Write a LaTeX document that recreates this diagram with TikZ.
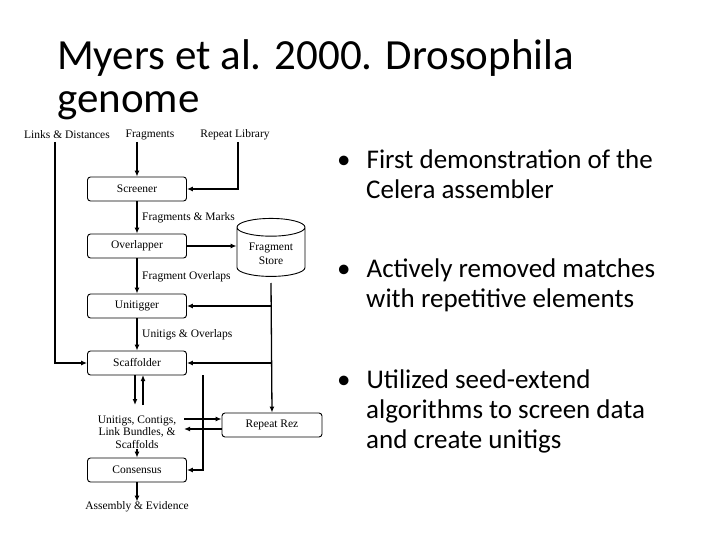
\documentclass[tikz,border=0pt]{standalone}
\usepackage{fontspec}
\setmainfont{Carlito}
\newfontfamily\tms{Liberation Serif}
\usetikzlibrary{shapes.geometric,arrows.meta}
\begin{document}
\begin{tikzpicture}[x=1pt,y=-1pt,
  box/.style={draw,rounded corners=3pt,minimum width=99pt,minimum height=24pt,font=\tms\fontsize{11.5}{12}\selectfont,inner sep=0pt,line width=0.9pt},
  lab/.style={font=\tms\fontsize{11.5}{12}\selectfont,inner sep=0pt},
  ar/.style={-{Latex[length=6pt,width=5pt]},line width=1.3pt},
  bul/.style={font=\fontsize{27}{30}\selectfont,align=left,anchor=north west,inner sep=0pt}]
\useasboundingbox (0,0) rectangle (720,540);
\node[anchor=west,font=\fontsize{43}{43}\selectfont,align=left,inner sep=0pt] (title) at (57,80) {Myers et al. 2000. Drosophila\\genome};
\node[lab] (ld) at (67,135) {Links \& Distances};
\node[lab] (fr) at (150,135) {Fragments};
\node[lab] (rl) at (235,135) {Repeat Library};
\node[box] (scr) at (137,189) {Screener};
\node[box] (ovl) at (137,246) {Overlapper};
\node[box] (uni) at (137,306) {Unitigger};
\node[box] (sca) at (137,363) {Scaffolder};
\node[box] (con) at (137,470) {Consensus};
\node[box,minimum width=100pt] (rr) at (272,425) {Repeat Rez};
\node[draw,cylinder,shape border rotate=90,aspect=0.35,minimum width=68pt,minimum height=58pt,line width=0.9pt,align=center,font=\tms\fontsize{11.5}{14}\selectfont] (fs) at (271,254) {Fragment\\Store};
\node[lab,align=center,font=\tms\fontsize{11.5}{12.5}\selectfont] (uc) at (137,432) {Unitigs, Contigs,\\Link Bundles, \&\\Scaffolds};
\node[lab] (ae) at (137,507) {Assembly \& Evidence};
\node[lab,anchor=west] at (142,218) {Fragments \& Marks};
\node[lab,anchor=west] at (142,277) {Fragment Overlaps};
\node[lab,anchor=west] at (142,335) {Unitigs \& Overlaps};
\coordinate (fsb) at (271,283);
\coordinate (frb) at (137,142);
\draw[ar] (frb) -- (scr);
\draw[ar] (238,142) |- (scr.east);
\draw[ar] (55,142) |- (sca.west);
\draw[ar] (scr) -- (ovl);
\draw[ar] (ovl) -- (uni);
\draw[ar] (uni) -- (sca);
\draw[ar] (ovl.east) -- (fs.west|-ovl.east);
\draw[ar] (fsb) -- (rr.north);
\draw[ar] (271,306) -- (uni.east);
\draw[ar] (271,363) -- (sca.east);
\draw[ar] (135,375) -- (135,405);
\draw[ar] (143,405) -- (143,375);
\draw[ar] (184,419) -- (rr.west|-0,419);
\draw[ar] (rr.west|-0,429) -- (184,429);
\draw[ar] (203,375) |- (con.east);
\draw[ar] (uc) -- (con);
\draw[ar] (con) -- (ae);
\node[bul] at (337,150) {\textbullet\hspace{16pt}First demonstration of the\\\hspace{29pt}Celera assembler};
\node[bul] at (337,259) {\textbullet\hspace{16pt}Actively removed matches\\\hspace{29pt}with repetitive elements};
\node[bul] at (337,370) {\textbullet\hspace{16pt}Utilized seed-extend\\\hspace{29pt}algorithms to screen data\\\hspace{29pt}and create unitigs};
\end{tikzpicture}
\end{document}
